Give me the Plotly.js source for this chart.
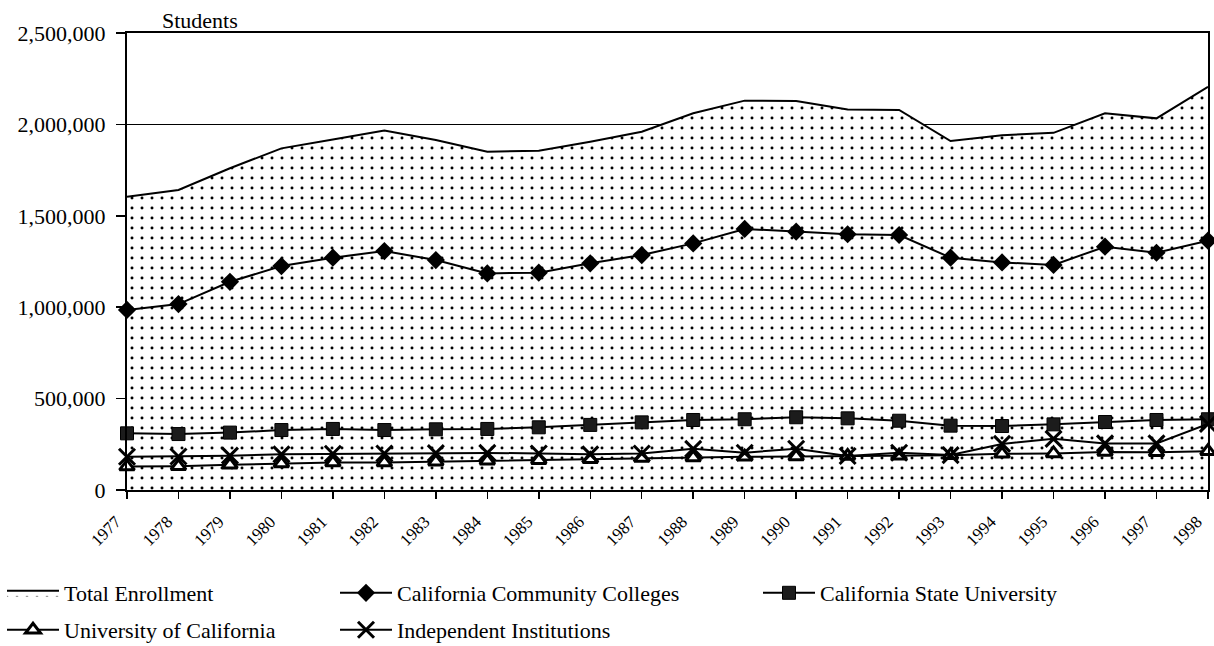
<!DOCTYPE html>
<html>
<head>
<meta charset="utf-8">
<script src="https://cdn.plot.ly/plotly-3.0.1.min.js"></script>
<style>
html,body{margin:0;padding:0;background:#fff;}
#chart{width:1214px;height:646px;}
</style>
</head>
<body>
<div id="chart"></div>
<script>
const years = [1977,1978,1979,1980,1981,1982,1983,1984,1985,1986,1987,1988,1989,1990,1991,1992,1993,1994,1995,1996,1997,1998];
const totalEnrollment = [1604000,1641000,1760000,1869000,1918000,1966000,1915000,1851000,1856000,1905000,1960000,2061000,2130000,2128000,2082000,2079000,1909000,1941000,1954000,2061000,2033000,2206000];
const communityColleges = [985000,1017000,1139000,1225000,1271000,1307000,1258000,1185000,1189000,1240000,1285000,1349000,1428000,1413000,1399000,1395000,1271000,1245000,1231000,1331000,1298000,1364000];
const stateUniversity = [310000,306000,314000,328000,334000,328000,332000,334000,343000,356000,370000,383000,387000,398000,392000,379000,352000,350000,359000,372000,383000,387000];
const universityOfCalifornia = [128000,130000,138000,145000,150000,150000,155000,160000,163000,168000,175000,178000,182000,183000,186000,188000,190000,198000,200000,208000,206000,212000];
const independentInstitutions = [182000,183000,188000,195000,198000,200000,202000,203000,200000,195000,200000,225000,204000,226000,186000,204000,191000,252000,280000,255000,255000,362000];
const seriesNames = ["Total Enrollment","California Community Colleges","California State University","University of California","Independent Institutions"];

const W = 1214, H = 646;
const font = "Liberation Serif, Times New Roman, serif";

const lineStyle = {color:"black", width:2};
const traces = [
  {x:years, y:totalEnrollment, name:seriesNames[0], type:"scatter", mode:"lines", fill:"tozeroy",
   fillcolor:"white", fillpattern:{shape:".", fgcolor:"black", bgcolor:"white", size:10, solidity:0.07},
   line:lineStyle, legend:"legend"},
  {x:years, y:communityColleges, name:seriesNames[1], type:"scatter", mode:"lines+markers",
   line:lineStyle, marker:{symbol:"diamond", size:14, color:"black"}, cliponaxis:false, legend:"legend2"},
  {x:years, y:stateUniversity, name:seriesNames[2], type:"scatter", mode:"lines+markers",
   line:lineStyle, marker:{symbol:"square", size:13, color:"#1c1c1c", line:{color:"black", width:1}}, cliponaxis:false, legend:"legend3"},
  {x:years, y:universityOfCalifornia, name:seriesNames[3], type:"scatter", mode:"lines+markers",
   line:lineStyle, marker:{symbol:"triangle-up", size:13, color:"white", line:{color:"black", width:3}}, cliponaxis:false, legend:"legend4"},
  {x:years, y:independentInstitutions, name:seriesNames[4], type:"scatter", mode:"lines+markers",
   line:lineStyle, marker:{symbol:"x-thin-open", size:16, color:"black", line:{color:"black", width:3}}, cliponaxis:false, legend:"legend5"}
];

function leg(xpx, ypx){
  return {xref:"container", yref:"container", x:xpx/W, y:1-ypx/H, xanchor:"left", yanchor:"middle",
    orientation:"v", bgcolor:"rgba(0,0,0,0)", borderwidth:0, itemwidth:52,
    font:{family:font, size:22, color:"black"}, itemclick:false, itemdoubleclick:false};
}

const layout = {
  width:W, height:H,
  margin:{l:127, r:6, t:33, b:156, autoexpand:false},
  paper_bgcolor:"white", plot_bgcolor:"white",
  font:{family:font, color:"black"},
  title:{text:"Students", xref:"container", yref:"container", x:162/W, xanchor:"left", y:1-20/H, yanchor:"middle",
    font:{family:font, size:22, color:"black"}},
  xaxis:{range:[1977,1998.001], tickmode:"array", tickvals:years, ticktext:years.map(String), tickangle:-45,
    ticklabeloverflow:"allow", ticklabelshift:-11, ticklabelstandoff:6,
    ticks:"outside", ticklen:7, tickwidth:1.5, tickcolor:"black",
    showline:true, linecolor:"black", linewidth:2, mirror:true, showgrid:false, zeroline:false,
    tickfont:{family:font, size:17, color:"black"}},
  yaxis:{range:[0,2500000], dtick:500000, tickformat:",d", ticks:"outside", ticklen:9, tickwidth:1.5, tickcolor:"black",
    ticklabelstandoff:6,
    showline:true, linecolor:"black", linewidth:2, mirror:true, showgrid:true, gridcolor:"black", gridwidth:1.5,
    zeroline:false,
    tickfont:{family:font, size:22, color:"black"}},
  showlegend:true,
  legend:leg(2,593),
  legend2:leg(335,593),
  legend3:leg(758,593),
  legend4:leg(2,630),
  legend5:leg(335,630)
};

Plotly.newPlot("chart", traces, layout, {displayModeBar:false, staticPlot:true});
</script>
</body>
</html>
